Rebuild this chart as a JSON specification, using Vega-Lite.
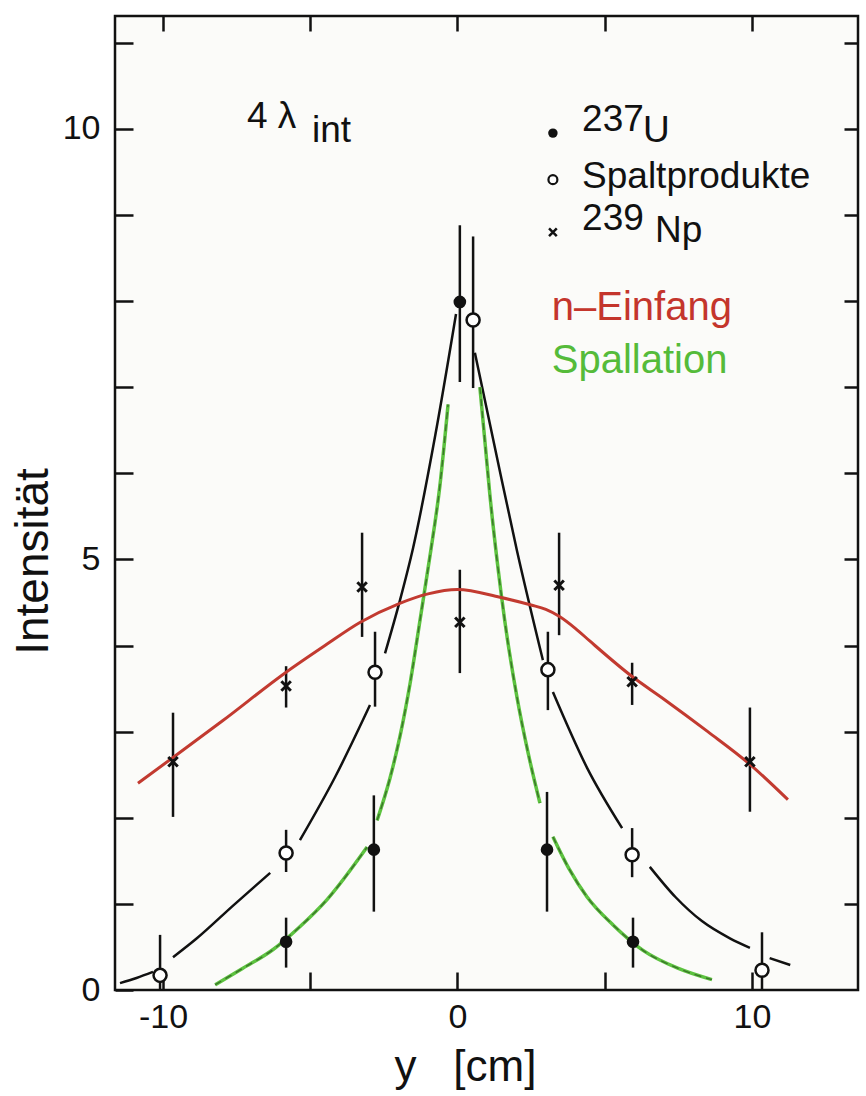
{
  "$schema": "https://vega.github.io/schema/vega-lite/v6.json",
  "width": 743,
  "height": 974,
  "autosize": {"type": "none"},
  "padding": {"left": 115, "top": 16, "right": 8, "bottom": 106},
  "background": "white",
  "config": {
    "view": {"stroke": "#111", "strokeWidth": 2.5, "fill": "#fbfbf9"},
    "axis": {
      "grid": false,
      "domain": false,
      "tickColor": "#111",
      "tickWidth": 2.5,
      "labelColor": "#111",
      "labelFont": "Liberation Sans, Arial",
      "labelFontSize": 34,
      "titleFont": "Liberation Sans, Arial",
      "titleFontWeight": "normal",
      "titleColor": "#111"
    }
  },
  "datasets": {
    "pts": [
      {"series": "U237", "x": -5.82, "y": 0.56, "lo": 0.26, "hi": 0.84},
      {"series": "U237", "x": -2.84, "y": 1.63, "lo": 0.91, "hi": 2.26},
      {"series": "U237", "x": 0.08, "y": 7.99, "lo": 7.06, "hi": 8.88},
      {"series": "U237", "x": 3.04, "y": 1.63, "lo": 0.91, "hi": 2.3},
      {"series": "U237", "x": 5.96, "y": 0.56, "lo": 0.26, "hi": 0.84},
      {"series": "SP", "x": -10.1, "y": 0.17, "lo": 0.0, "hi": 0.64},
      {"series": "SP", "x": -5.82, "y": 1.59, "lo": 1.37, "hi": 1.86},
      {"series": "SP", "x": -2.8, "y": 3.69, "lo": 3.29, "hi": 4.16},
      {"series": "SP", "x": 0.53, "y": 7.78, "lo": 6.99, "hi": 8.75},
      {"series": "SP", "x": 3.07, "y": 3.72, "lo": 3.25, "hi": 4.16},
      {"series": "SP", "x": 5.93, "y": 1.57, "lo": 1.31, "hi": 1.88},
      {"series": "SP", "x": 10.34, "y": 0.23, "lo": 0.0, "hi": 0.67},
      {"series": "Np239", "x": -9.66, "y": 2.65, "lo": 2.01, "hi": 3.22},
      {"series": "Np239", "x": -5.82, "y": 3.53, "lo": 3.28, "hi": 3.76},
      {"series": "Np239", "x": -3.24, "y": 4.68, "lo": 4.1, "hi": 5.31},
      {"series": "Np239", "x": 0.08, "y": 4.27, "lo": 3.68, "hi": 4.88},
      {"series": "Np239", "x": 3.45, "y": 4.7, "lo": 4.12, "hi": 5.31},
      {"series": "Np239", "x": 5.93, "y": 3.58, "lo": 3.31, "hi": 3.8},
      {"series": "Np239", "x": 9.93, "y": 2.65, "lo": 2.07, "hi": 3.28}
    ],
    "black": [
      {"seg": "A", "x": -11.46, "y": 0.08}, {"seg": "A", "x": -10.9, "y": 0.14}, {"seg": "A", "x": -10.34, "y": 0.21},
      {"seg": "B", "x": -9.66, "y": 0.38}, {"seg": "B", "x": -8.85, "y": 0.6}, {"seg": "B", "x": -7.62, "y": 0.98}, {"seg": "B", "x": -6.36, "y": 1.36},
      {"seg": "C", "x": -5.35, "y": 1.74}, {"seg": "C", "x": -4.16, "y": 2.47}, {"seg": "C", "x": -2.97, "y": 3.31},
      {"seg": "D", "x": -2.46, "y": 3.91}, {"seg": "D", "x": -1.95, "y": 4.53}, {"seg": "D", "x": -1.51, "y": 5.13}, {"seg": "D", "x": -0.75, "y": 6.45}, {"seg": "D", "x": -0.05, "y": 7.85},
      {"seg": "E", "x": 0.59, "y": 7.4}, {"seg": "E", "x": 1.3, "y": 6.25}, {"seg": "E", "x": 2.02, "y": 5.1}, {"seg": "E", "x": 2.9, "y": 3.83},
      {"seg": "F", "x": 3.24, "y": 3.46}, {"seg": "F", "x": 4.4, "y": 2.58}, {"seg": "F", "x": 5.59, "y": 1.88},
      {"seg": "G", "x": 6.53, "y": 1.43}, {"seg": "G", "x": 7.4, "y": 1.08}, {"seg": "G", "x": 8.3, "y": 0.8}, {"seg": "G", "x": 9.25, "y": 0.6}, {"seg": "G", "x": 9.93, "y": 0.49},
      {"seg": "H", "x": 10.6, "y": 0.37}, {"seg": "H", "x": 11.3, "y": 0.29}
    ],
    "green": [
      {"seg": "g1", "x": -8.23, "y": 0.06}, {"seg": "g1", "x": -7.3, "y": 0.25}, {"seg": "g1", "x": -6.26, "y": 0.47}, {"seg": "g1", "x": -5.4, "y": 0.72}, {"seg": "g1", "x": -4.43, "y": 1.05}, {"seg": "g1", "x": -3.07, "y": 1.66},
      {"seg": "g2", "x": -2.73, "y": 1.97}, {"seg": "g2", "x": -2.3, "y": 2.45}, {"seg": "g2", "x": -1.95, "y": 2.95}, {"seg": "g2", "x": -1.6, "y": 3.58}, {"seg": "g2", "x": -1.27, "y": 4.3}, {"seg": "g2", "x": -0.93, "y": 5.05}, {"seg": "g2", "x": -0.6, "y": 5.85}, {"seg": "g2", "x": -0.32, "y": 6.8},
      {"seg": "g3", "x": 0.76, "y": 7.0}, {"seg": "g3", "x": 0.95, "y": 6.3}, {"seg": "g3", "x": 1.1, "y": 5.75}, {"seg": "g3", "x": 1.34, "y": 5.0}, {"seg": "g3", "x": 1.6, "y": 4.3}, {"seg": "g3", "x": 2.02, "y": 3.4}, {"seg": "g3", "x": 2.4, "y": 2.75}, {"seg": "g3", "x": 2.8, "y": 2.17},
      {"seg": "g4", "x": 3.24, "y": 1.78}, {"seg": "g4", "x": 3.8, "y": 1.4}, {"seg": "g4", "x": 4.4, "y": 1.08}, {"seg": "g4", "x": 5.3, "y": 0.75}, {"seg": "g4", "x": 6.3, "y": 0.46}, {"seg": "g4", "x": 7.5, "y": 0.25}, {"seg": "g4", "x": 8.64, "y": 0.12}
    ],
    "red": [
      {"x": -10.85, "y": 2.4}, {"x": -9.66, "y": 2.7}, {"x": -8.0, "y": 3.12}, {"x": -5.82, "y": 3.69}, {"x": -4.5, "y": 4.0}, {"x": -3.3, "y": 4.27}, {"x": -1.96, "y": 4.49}, {"x": -1.0, "y": 4.6}, {"x": 0.0, "y": 4.65}, {"x": 1.44, "y": 4.56}, {"x": 2.5, "y": 4.47}, {"x": 3.0, "y": 4.42}, {"x": 3.45, "y": 4.34}, {"x": 4.0, "y": 4.2}, {"x": 4.5, "y": 4.05}, {"x": 5.93, "y": 3.64}, {"x": 7.0, "y": 3.38}, {"x": 8.5, "y": 3.0}, {"x": 9.93, "y": 2.62}, {"x": 11.22, "y": 2.21}
    ],
    "key": [
      {"series": "U237", "x": 3.24, "y": 9.95},
      {"series": "SP", "x": 3.24, "y": 9.41},
      {"series": "Np239", "x": 3.24, "y": 8.8}
    ],
    "texts": [
      {"t": "4", "x": -7.15, "y": 10.01, "k": "black"},
      {"t": "λ", "x": -6.1, "y": 10.01, "k": "black"},
      {"t": "int", "x": -4.94, "y": 9.85, "k": "black"},
      {"t": "237", "x": 4.23, "y": 9.97, "k": "black"},
      {"t": "U", "x": 6.3, "y": 9.85, "k": "black"},
      {"t": "Spaltprodukte", "x": 4.23, "y": 9.31, "k": "black"},
      {"t": "239", "x": 4.23, "y": 8.83, "k": "black"},
      {"t": "Np", "x": 6.71, "y": 8.69, "k": "black"}
    ],
    "ctexts": [
      {"t": "n–Einfang", "x": 3.2, "y": 7.78, "k": "red"},
      {"t": "Spallation", "x": 3.2, "y": 7.17, "k": "green"}
    ]
  },
  "resolve": {"axis": {"x": "independent", "y": "independent"}},
  "layer": [
    {
      "data": {"name": "pts"},
      "mark": {"type": "rule", "color": "#111", "strokeWidth": 2.5},
      "encoding": {
        "x": {"field": "x", "type": "quantitative",
          "scale": {"domain": [-11.63, 13.6], "nice": false, "zero": false},
          "axis": {"orient": "bottom", "values": [-10, -5, 0, 5, 10], "tickSize": -18, "labelPadding": 28,
            "labelExpr": "datum.value === -10 ? '-10' : datum.value === 10 ? '10' : datum.value === 0 ? '0' : ''",
            "title": "y\u00a0\u00a0\u00a0[cm]", "titleFontSize": 44, "titleX": 350, "titleY": 90, "titleBaseline": "alphabetic"}},
        "y": {"field": "lo", "type": "quantitative",
          "scale": {"domain": [0, 11.31], "nice": false, "zero": false},
          "axis": {"orient": "left", "values": [0, 1, 2, 3, 4, 5, 6, 7, 8, 9, 10, 11], "tickSize": -18, "labelPadding": 33,
            "labelExpr": "datum.value % 5 === 0 ? '' + datum.value : ''",
            "title": "Intensität", "titleFontSize": 46, "titleX": -68, "titleY": 545, "titleBaseline": "alphabetic"}},
        "y2": {"field": "hi"}
      }
    },
    {
      "data": {"name": "black"},
      "mark": {"type": "line", "color": "#111", "strokeWidth": 2.5, "interpolate": "monotone"},
      "encoding": {
        "x": {"field": "x", "type": "quantitative",
          "scale": {"domain": [-11.63, 13.6], "nice": false, "zero": false},
          "axis": {"orient": "top", "values": [-10, -5, 0, 5, 10], "tickSize": -15, "labels": false, "title": null}},
        "y": {"field": "y", "type": "quantitative",
          "scale": {"domain": [0, 11.31], "nice": false, "zero": false},
          "axis": {"orient": "right", "values": [1, 2, 3, 4, 5, 6, 7, 8, 9, 10, 11], "tickSize": -14, "labels": false, "title": null}},
        "detail": {"field": "seg"}
      }
    },
    {
      "data": {"name": "green"},
      "mark": {"type": "line", "color": "#5cc23f", "strokeWidth": 3.5, "interpolate": "monotone"},
      "encoding": {
        "x": {"field": "x", "type": "quantitative", "scale": {"domain": [-11.63, 13.6], "nice": false, "zero": false}, "axis": null},
        "y": {"field": "y", "type": "quantitative", "scale": {"domain": [0, 11.31], "nice": false, "zero": false}, "axis": null},
        "detail": {"field": "seg"}
      }
    },
    {
      "data": {"name": "green"},
      "mark": {"type": "line", "color": "#2a4a20", "strokeWidth": 1.4, "strokeDash": [7, 5], "opacity": 0.65, "interpolate": "monotone"},
      "encoding": {
        "x": {"field": "x", "type": "quantitative", "scale": {"domain": [-11.63, 13.6], "nice": false, "zero": false}, "axis": null},
        "y": {"field": "y", "type": "quantitative", "scale": {"domain": [0, 11.31], "nice": false, "zero": false}, "axis": null},
        "detail": {"field": "seg"}
      }
    },
    {
      "data": {"name": "red"},
      "mark": {"type": "line", "color": "#c23a30", "strokeWidth": 3, "interpolate": "monotone"},
      "encoding": {
        "x": {"field": "x", "type": "quantitative", "scale": {"domain": [-11.63, 13.6], "nice": false, "zero": false}, "axis": null},
        "y": {"field": "y", "type": "quantitative", "scale": {"domain": [0, 11.31], "nice": false, "zero": false}, "axis": null}
      }
    },
    {
      "data": {"name": "pts"},
      "transform": [{"filter": "datum.series === 'U237'"}],
      "mark": {"type": "point", "shape": "circle", "filled": true, "color": "#111", "size": 160, "opacity": 1},
      "encoding": {
        "x": {"field": "x", "type": "quantitative", "scale": {"domain": [-11.63, 13.6], "nice": false, "zero": false}, "axis": null},
        "y": {"field": "y", "type": "quantitative", "scale": {"domain": [0, 11.31], "nice": false, "zero": false}, "axis": null}
      }
    },
    {
      "data": {"name": "pts"},
      "transform": [{"filter": "datum.series === 'SP'"}],
      "mark": {"type": "point", "shape": "circle", "filled": true, "fill": "white", "stroke": "#111", "strokeWidth": 2.5, "size": 170, "opacity": 1},
      "encoding": {
        "x": {"field": "x", "type": "quantitative", "scale": {"domain": [-11.63, 13.6], "nice": false, "zero": false}, "axis": null},
        "y": {"field": "y", "type": "quantitative", "scale": {"domain": [0, 11.31], "nice": false, "zero": false}, "axis": null}
      }
    },
    {
      "data": {"name": "pts"},
      "transform": [{"filter": "datum.series === 'Np239'"}],
      "mark": {"type": "point", "shape": "M-1,-1L1,1M-1,1L1,-1", "filled": false, "stroke": "#111", "strokeWidth": 3, "size": 90, "opacity": 1},
      "encoding": {
        "x": {"field": "x", "type": "quantitative", "scale": {"domain": [-11.63, 13.6], "nice": false, "zero": false}, "axis": null},
        "y": {"field": "y", "type": "quantitative", "scale": {"domain": [0, 11.31], "nice": false, "zero": false}, "axis": null}
      }
    },
    {
      "data": {"name": "key"},
      "transform": [{"filter": "datum.series === 'U237'"}],
      "mark": {"type": "point", "shape": "circle", "filled": true, "color": "#111", "size": 90, "opacity": 1},
      "encoding": {
        "x": {"field": "x", "type": "quantitative", "scale": {"domain": [-11.63, 13.6], "nice": false, "zero": false}, "axis": null},
        "y": {"field": "y", "type": "quantitative", "scale": {"domain": [0, 11.31], "nice": false, "zero": false}, "axis": null}
      }
    },
    {
      "data": {"name": "key"},
      "transform": [{"filter": "datum.series === 'SP'"}],
      "mark": {"type": "point", "shape": "circle", "filled": true, "fill": "white", "stroke": "#111", "strokeWidth": 2.2, "size": 80, "opacity": 1},
      "encoding": {
        "x": {"field": "x", "type": "quantitative", "scale": {"domain": [-11.63, 13.6], "nice": false, "zero": false}, "axis": null},
        "y": {"field": "y", "type": "quantitative", "scale": {"domain": [0, 11.31], "nice": false, "zero": false}, "axis": null}
      }
    },
    {
      "data": {"name": "key"},
      "transform": [{"filter": "datum.series === 'Np239'"}],
      "mark": {"type": "point", "shape": "M-1,-1L1,1M-1,1L1,-1", "filled": false, "stroke": "#111", "strokeWidth": 2.5, "size": 60, "opacity": 1},
      "encoding": {
        "x": {"field": "x", "type": "quantitative", "scale": {"domain": [-11.63, 13.6], "nice": false, "zero": false}, "axis": null},
        "y": {"field": "y", "type": "quantitative", "scale": {"domain": [0, 11.31], "nice": false, "zero": false}, "axis": null}
      }
    },
    {
      "data": {"name": "texts"},
      "mark": {"type": "text", "align": "left", "baseline": "alphabetic", "font": "Liberation Sans, Arial", "fontSize": 37, "color": "#111111"},
      "encoding": {
        "x": {"field": "x", "type": "quantitative", "scale": {"domain": [-11.63, 13.6], "nice": false, "zero": false}, "axis": null},
        "y": {"field": "y", "type": "quantitative", "scale": {"domain": [0, 11.31], "nice": false, "zero": false}, "axis": null},
        "text": {"field": "t"}
      }
    },
    {
      "data": {"name": "ctexts"},
      "mark": {"type": "text", "align": "left", "baseline": "alphabetic", "font": "Liberation Sans, Arial", "fontSize": 40},
      "encoding": {
        "x": {"field": "x", "type": "quantitative", "scale": {"domain": [-11.63, 13.6], "nice": false, "zero": false}, "axis": null},
        "y": {"field": "y", "type": "quantitative", "scale": {"domain": [0, 11.31], "nice": false, "zero": false}, "axis": null},
        "text": {"field": "t"},
        "color": {"field": "k", "type": "nominal", "scale": {"domain": ["red", "green"], "range": ["#c4352c", "#55bb3a"]}, "legend": null}
      }
    }
  ]
}
